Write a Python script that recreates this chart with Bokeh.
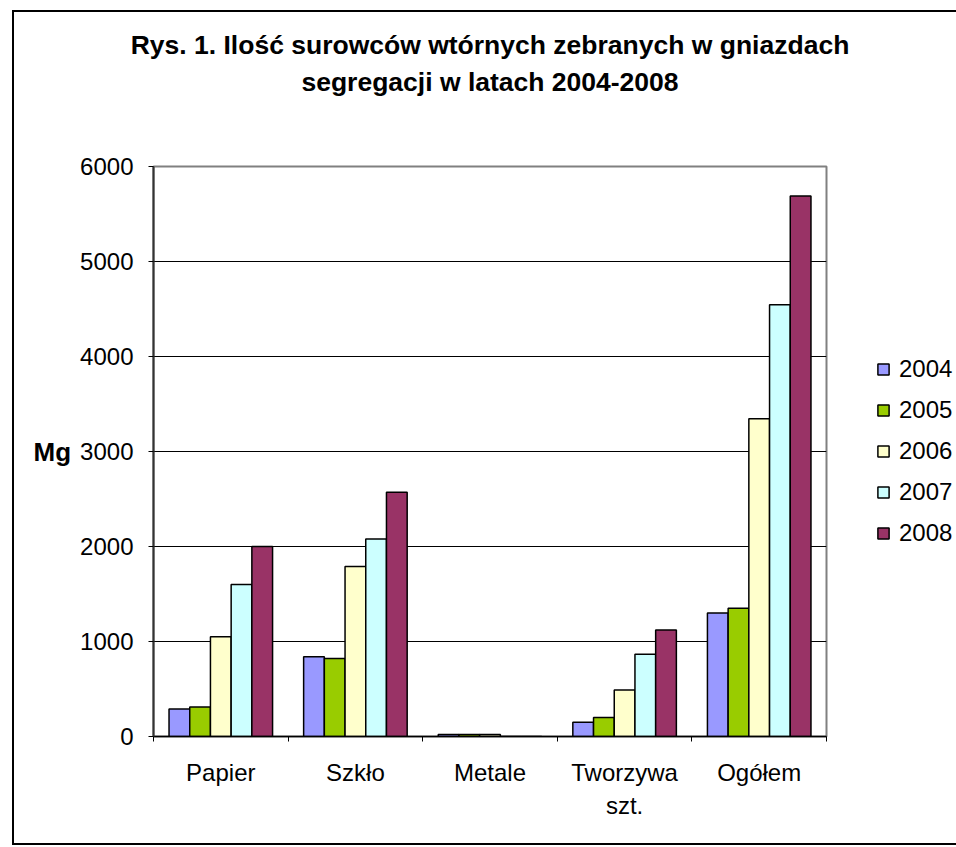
import numpy as np
from bokeh.plotting import figure
from bokeh.models import (Range1d, FixedTicker, Legend, LegendItem,
                          ColumnDataSource, Title)
from bokeh.layouts import column
from bokeh.embed import file_html
from bokeh.resources import INLINE

# ---- data ----
categories = ["Papier", "Szkło", "Metale", "Tworzywa\nszt.", "Ogółem"]
years = ["2004", "2005", "2006", "2007", "2008"]
v2004 = [290, 840, 20, 150, 1300]
v2005 = [310, 820, 20, 200, 1350]
v2006 = [1050, 1790, 20, 490, 3345]
v2007 = [1600, 2080, 0, 865, 4545]
v2008 = [2000, 2570, 0, 1120, 5690]
series = [v2004, v2005, v2006, v2007, v2008]
colors = ["#9999FF", "#99CC00", "#FFFFCC", "#CCFFFF", "#993366"]
y_ticks = [0, 1000, 2000, 3000, 4000, 5000, 6000]
title_line1 = "Rys. 1. Ilość surowców wtórnych zebranych w gniazdach"
title_line2 = "segregacji w latach 2004-2008"
y_label = "Mg"

FONT = "Liberation Sans"

W, H = 940, 831
p = figure(width=W, height=H, output_backend="svg", toolbar_location=None,
           x_range=Range1d(0, len(categories)), y_range=Range1d(0, 6000),
           min_border_left=139, min_border_right=128,
           min_border_top=154, min_border_bottom=107)
p.frame_width = 673
p.frame_height = 570
p.background_fill_color = "white"
p.border_fill_color = "white"
p.outline_line_color = "#808080"
p.outline_line_width = 2


def style_title(t, standoff, size="26.5px"):
    t.align = "center"
    t.text_font = FONT
    t.text_font_size = size
    t.text_font_style = "bold"
    t.text_color = "black"
    t.standoff = standoff


# spacer nearest the frame, then title line 2, then p.title (line 1) outermost
spacer = Title(text=" ")
style_title(spacer, 65, size="1px")
p.add_layout(spacer, "above")
t2 = Title(text=title_line2)
style_title(t2, 4)
p.add_layout(t2, "above")
p.title.text = title_line1
style_title(p.title, 6)

n = len(series)
bw = 1.0 / (n + 1.5)
idx = np.arange(len(categories))
items = []
for j, (vals, col, yr) in enumerate(zip(series, colors, years)):
    xs = idx + 0.5 + (j - (n - 1) / 2) * bw
    src = ColumnDataSource(dict(x=xs, top=vals))
    r = p.vbar(x="x", top="top", bottom=0, width=bw, source=src,
               fill_color=col, line_color="black", line_width=1.5)
    items.append(LegendItem(label=yr, renderers=[r]))

# axes
p.xgrid.visible = False
p.ygrid.ticker = FixedTicker(ticks=y_ticks)
p.ygrid.grid_line_color = "black"
p.ygrid.grid_line_width = 1

p.yaxis.ticker = FixedTicker(ticks=y_ticks)
p.yaxis.minor_tick_line_color = None
p.yaxis.major_tick_out = 5
p.yaxis.major_tick_in = 0
p.yaxis.major_label_standoff = 15
p.yaxis.axis_line_color = "#333333"
p.yaxis.axis_line_width = 2
p.yaxis.major_tick_line_color = "black"
p.yaxis.major_label_text_font = FONT
p.yaxis.major_label_text_font_size = "24px"
p.yaxis.major_label_text_color = "black"
p.yaxis.axis_label = y_label
p.yaxis.axis_label_text_font = FONT
p.yaxis.axis_label_text_font_size = "26px"
p.yaxis.axis_label_text_font_style = "bold"
p.yaxis.axis_label_text_color = "black"
p.yaxis.axis_label_standoff = 6
if "axis_label_orientation" in p.yaxis[0].properties():
    p.yaxis.axis_label_orientation = "horizontal"

centers = list(idx + 0.5)
p.xaxis.ticker = FixedTicker(ticks=centers, minor_ticks=list(range(len(categories) + 1)))
p.xaxis.major_label_overrides = {float(c): lab for c, lab in zip(centers, categories)}
p.xaxis.major_tick_out = 0
p.xaxis.major_tick_in = 0
p.xaxis.minor_tick_out = 5
p.xaxis.minor_tick_in = 0
p.xaxis.minor_tick_line_color = "black"
p.xaxis.major_label_standoff = 17
p.xaxis.axis_line_color = "black"
p.xaxis.axis_line_width = 1.5
p.xaxis.major_label_text_font = FONT
p.xaxis.major_label_text_font_size = "24px"
p.xaxis.major_label_text_color = "black"
p.xaxis.major_label_text_line_height = 1.25

legend = Legend(items=items, location=(50, 189), orientation="vertical")
legend.border_line_color = None
legend.background_fill_alpha = 0
legend.padding = 0
legend.margin = 0
legend.glyph_width = 14
legend.glyph_height = 14
legend.label_standoff = 9
legend.label_height = 28
legend.spacing = 13
legend.label_text_font = FONT
legend.label_text_font_size = "24px"
legend.label_text_color = "black"
p.add_layout(legend, "right")

layout = column(p, styles={"border": "2px solid black", "margin-left": "12px",
                           "margin-top": "10px"})

open("out.html", "w").write(file_html(layout, INLINE))
